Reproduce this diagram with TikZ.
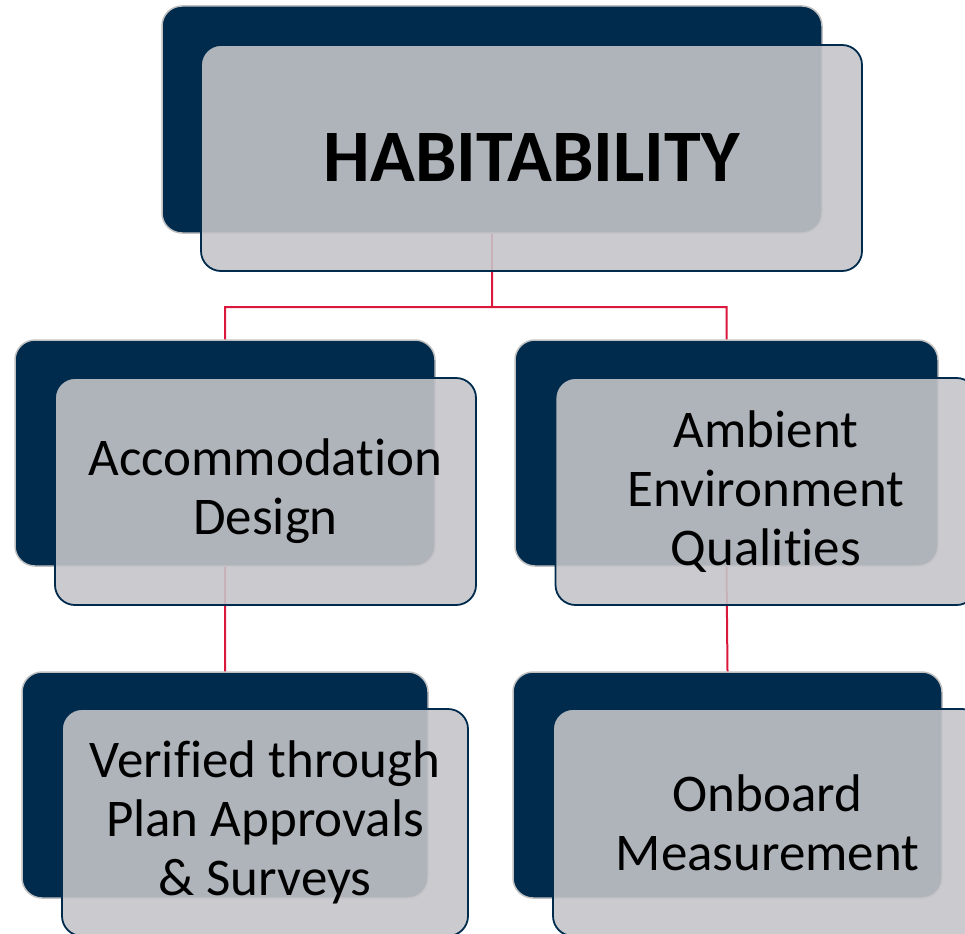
\documentclass[tikz,border=0pt]{standalone}
\usepackage{fontspec}
\setmainfont[RawFeature={-liga;-clig;-dlig;-rlig;-calt}]{Carlito}
\usepackage{tikz}
\definecolor{navy}{HTML}{002B4D}
\definecolor{frontgray}{RGB}{197,197,201}
\definecolor{rimgray}{HTML}{C0C0C0}
\definecolor{linkred}{HTML}{D9183B}
\tikzstyle{backbox}=[rectangle, rounded corners=20pt, fill=navy, draw=rimgray, line width=1.5pt, inner sep=0pt]
\tikzstyle{frontbox}=[rectangle, rounded corners=20pt, fill=frontgray, fill opacity=0.89, text opacity=1, draw=navy, line width=1.8pt, align=center, inner sep=0pt, font=\fontsize{53}{59}\selectfont]
\tikzstyle{link}=[draw=linkred, line width=2pt]

\begin{document}
\begin{tikzpicture}[x=1pt, y=-1pt]
			\useasboundingbox (0,0) rectangle (965,933);
			\node[backbox, minimum width=660pt, minimum height=227pt] (habb) at (492,119.5) {};
			\node[backbox, minimum width=420pt, minimum height=226pt] (accb) at (225,453) {};
			\node[backbox, minimum width=423pt, minimum height=226pt] (ambb) at (726.5,453) {};
			\node[backbox, minimum width=406pt, minimum height=226pt] (verb) at (225,785) {};
			\node[backbox, minimum width=429pt, minimum height=226pt] (onbb) at (727.5,785) {};
			\coordinate (bus) at (492,307);
			\path[link]
				(habb.south)--(bus) -| (accb.north)
				(bus) -| (ambb.north)
				(accb.south)--(verb.north)
				(ambb.south)--(onbb.north);
			\node[frontbox, minimum width=661pt, minimum height=226pt, font=\fontsize{74}{86}\selectfont\bfseries] (hab) at (531.5,158) {HABITABILITY};
			\node[frontbox, minimum width=421pt, minimum height=227pt] (acc) at (265.5,491.5) {Accommodation\\Design};
			\node[frontbox, minimum width=421pt, minimum height=227pt] (amb) at (766,491.5) {Ambient\\Environment\\Qualities};
			\node[frontbox, minimum width=406pt, minimum height=227pt] (ver) at (265,822.5) {Verified through\\Plan Approvals\\\& Surveys};
			\node[frontbox, minimum width=429pt, minimum height=227pt] (onb) at (767.5,822.5) {Onboard\\Measurement};
		\end{tikzpicture}
\end{document}
